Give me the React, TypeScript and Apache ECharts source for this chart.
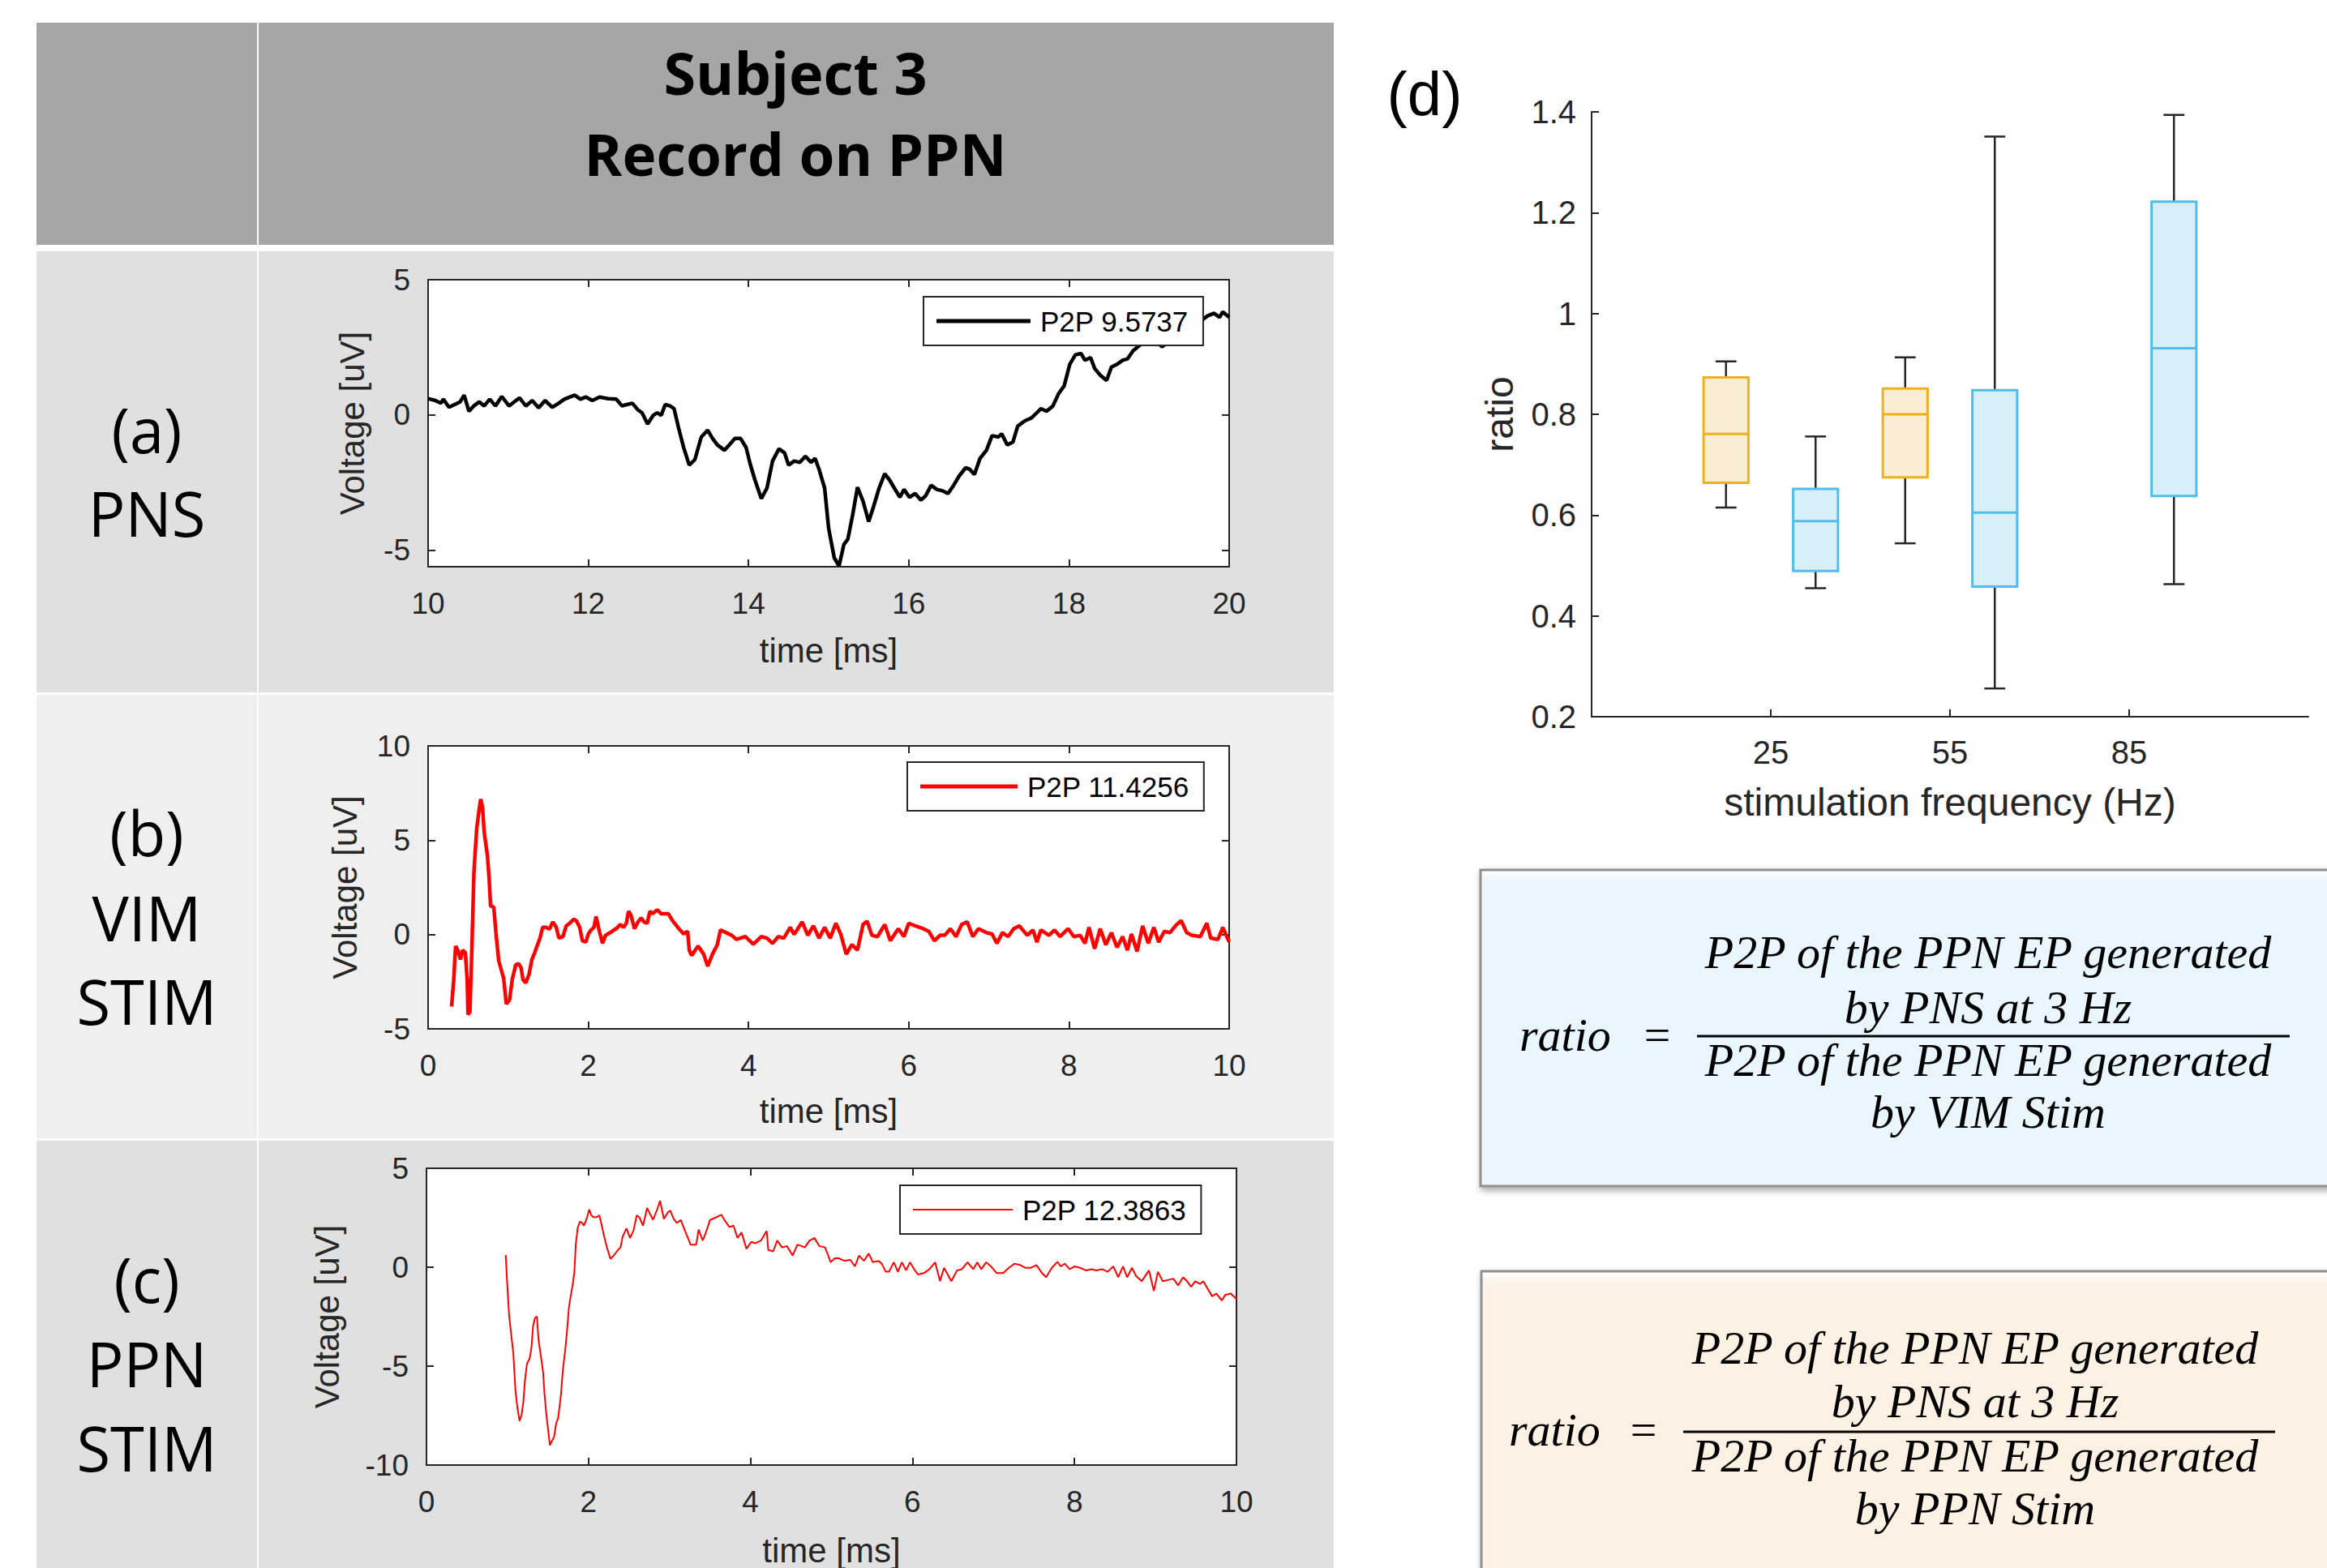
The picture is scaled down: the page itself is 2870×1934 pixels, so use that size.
import React, { useEffect, useRef } from "react";
import * as echarts from "echarts";

// ---------------- DATA ----------------
// (a) PNS evoked potential recorded on PPN
const pnsTime = [10.00, 10.09, 10.16, 10.19, 10.26, 10.33, 10.40, 10.45, 10.51, 10.57, 10.64, 10.70, 10.77, 10.84, 10.92, 11.01, 11.14, 11.22, 11.30, 11.38, 11.46, 11.55, 11.63, 11.70, 11.83, 11.90, 11.97, 12.05, 12.14, 12.25, 12.35, 12.42, 12.48, 12.55, 12.62, 12.67, 12.74, 12.81, 12.86, 12.91, 12.96, 13.02, 13.07, 13.13, 13.19, 13.26, 13.33, 13.41, 13.49, 13.55, 13.61, 13.70, 13.76, 13.83, 13.90, 13.97, 14.02, 14.08, 14.16, 14.23, 14.30, 14.38, 14.45, 14.50, 14.57, 14.64, 14.71, 14.78, 14.83, 14.88, 14.95, 15.00, 15.07, 15.13, 15.19, 15.24, 15.30, 15.36, 15.43, 15.50, 15.56, 15.63, 15.70, 15.76, 15.82, 15.89, 15.94, 16.01, 16.08, 16.15, 16.21, 16.28, 16.35, 16.42, 16.49, 16.56, 16.63, 16.71, 16.76, 16.82, 16.89, 16.97, 17.04, 17.12, 17.16, 17.23, 17.30, 17.36, 17.45, 17.53, 17.60, 17.65, 17.72, 17.80, 17.87, 17.94, 18.01, 18.08, 18.15, 18.20, 18.27, 18.32, 18.39, 18.47, 18.53, 18.60, 18.67, 18.73, 18.80, 18.88, 18.99, 19.09, 19.16, 19.29, 19.43, 19.57, 19.73, 19.81, 19.88, 19.92, 20.00];
const pnsVoltage = [0.60, 0.53, 0.43, 0.58, 0.28, 0.38, 0.48, 0.73, 0.13, 0.33, 0.48, 0.33, 0.58, 0.33, 0.68, 0.33, 0.63, 0.33, 0.53, 0.26, 0.53, 0.28, 0.43, 0.58, 0.73, 0.58, 0.66, 0.53, 0.66, 0.60, 0.58, 0.33, 0.38, 0.43, 0.18, 0.08, -0.34, -0.02, 0.08, -0.02, 0.38, 0.33, 0.23, -0.52, -1.21, -1.86, -1.66, -0.82, -0.57, -0.87, -1.11, -1.31, -1.11, -0.87, -0.87, -1.21, -1.81, -2.41, -3.10, -2.71, -1.71, -1.26, -1.41, -1.86, -1.71, -1.76, -1.53, -1.76, -1.61, -2.01, -2.71, -4.20, -5.29, -5.59, -4.80, -4.60, -3.70, -2.68, -3.20, -3.95, -3.40, -2.71, -2.18, -2.41, -2.71, -3.05, -2.76, -3.05, -2.91, -3.15, -3.00, -2.61, -2.76, -2.81, -2.91, -2.61, -2.26, -1.96, -2.01, -2.21, -1.61, -1.31, -0.77, -0.82, -0.70, -1.11, -1.01, -0.42, -0.22, -0.12, 0.08, 0.23, 0.13, 0.33, 0.78, 1.07, 1.87, 2.22, 2.27, 2.02, 2.12, 1.72, 1.47, 1.27, 1.77, 1.87, 2.02, 2.07, 2.37, 2.57, 2.77, 2.72, 2.52, 2.77, 3.01, 3.31, 3.66, 3.76, 3.61, 3.81, 3.61];

// (b) VIM stimulation
const vimTime = [0.293, 0.32, 0.343, 0.37, 0.404, 0.431, 0.465, 0.488, 0.498, 0.522, 0.545, 0.572, 0.606, 0.64, 0.657, 0.68, 0.70, 0.741, 0.761, 0.78, 0.82, 0.848, 0.882, 0.943, 0.976, 1.017, 1.05, 1.094, 1.128, 1.16, 1.185, 1.219, 1.26, 1.296, 1.33, 1.354, 1.397, 1.43, 1.475, 1.515, 1.556, 1.6, 1.633, 1.683, 1.724, 1.768, 1.818, 1.85, 1.892, 1.926, 1.97, 2.0, 2.034, 2.07, 2.097, 2.138, 2.178, 2.215, 2.256, 2.306, 2.357, 2.397, 2.44, 2.475, 2.502, 2.532, 2.576, 2.62, 2.66, 2.694, 2.735, 2.77, 2.80, 2.86, 2.91, 3.00, 3.05, 3.13, 3.19, 3.24, 3.26, 3.29, 3.37, 3.44, 3.49, 3.55, 3.61, 3.65, 3.72, 3.79, 3.85, 3.96, 4.06, 4.16, 4.23, 4.30, 4.37, 4.44, 4.52, 4.57, 4.67, 4.74, 4.81, 4.88, 4.95, 5.02, 5.09, 5.15, 5.22, 5.29, 5.36, 5.43, 5.48, 5.54, 5.61, 5.70, 5.77, 5.87, 5.94, 6.00, 6.08, 6.18, 6.25, 6.32, 6.39, 6.45, 6.52, 6.59, 6.66, 6.73, 6.80, 6.87, 6.97, 7.04, 7.10, 7.17, 7.24, 7.31, 7.38, 7.48, 7.55, 7.60, 7.65, 7.75, 7.82, 7.89, 7.99, 8.06, 8.14, 8.20, 8.25, 8.32, 8.39, 8.46, 8.53, 8.60, 8.67, 8.73, 8.78, 8.85, 8.92, 8.99, 9.06, 9.12, 9.19, 9.26, 9.33, 9.40, 9.47, 9.53, 9.64, 9.72, 9.77, 9.86, 9.92, 10.00];
const vimVoltage = [-3.82, -2.39, -0.61, -0.83, -1.32, -0.83, -0.97, -2.39, -4.24, -4.10, -0.97, 3.30, 5.58, 6.72, 7.18, 6.72, 5.44, 4.16, 3.02, 1.52, 1.45, 0.03, -1.40, -2.32, -3.68, -3.46, -2.39, -1.61, -1.54, -1.75, -2.39, -2.56, -2.11, -1.32, -0.97, -0.68, -0.19, 0.38, 0.38, 0.28, 0.67, 0.38, -0.19, -0.11, 0.46, 0.60, 0.81, 0.74, 0.38, -0.33, -0.40, 0.03, 0.24, 0.38, 0.95, 0.17, -0.47, -0.04, 0.06, 0.20, 0.34, 0.53, 0.38, 0.60, 1.24, 1.03, 0.31, 0.67, 0.88, 0.67, 0.60, 1.24, 1.10, 1.31, 1.10, 1.10, 0.74, 0.31, 0.03, 0.17, -0.83, -1.11, -0.61, -1.04, -1.68, -1.04, -0.54, 0.24, 0.10, -0.04, -0.26, -0.11, -0.51, -0.11, -0.19, -0.47, -0.11, -0.19, 0.38, 0.00, 0.67, -0.04, 0.46, -0.19, 0.38, -0.19, 0.60, 0.03, -1.04, -0.54, -0.83, 0.53, 0.71, -0.04, -0.11, 0.53, -0.33, 0.31, -0.11, 0.60, 0.46, 0.31, 0.17, -0.33, -0.04, -0.04, 0.31, -0.11, 0.53, 0.67, -0.11, 0.31, 0.10, 0.03, -0.47, 0.10, -0.11, 0.31, 0.46, -0.04, 0.24, -0.40, 0.24, -0.04, 0.24, -0.11, 0.31, -0.11, -0.04, -0.47, 0.38, -0.75, 0.31, -0.54, 0.10, -0.68, -0.11, -0.83, 0.03, -0.90, 0.46, -0.47, 0.38, -0.40, 0.17, 0.10, 0.46, 0.74, 0.10, -0.04, -0.11, 0.60, -0.19, -0.26, 0.38, -0.40];

// (c) PPN stimulation
const ppnTime = [0.978, 0.998, 1.02, 1.049, 1.072, 1.099, 1.122, 1.149, 1.173, 1.196, 1.216, 1.24, 1.273, 1.296, 1.316, 1.34, 1.363, 1.383, 1.407, 1.44, 1.457, 1.481, 1.508, 1.524, 1.548, 1.575, 1.601, 1.625, 1.658, 1.685, 1.709, 1.732, 1.759, 1.786, 1.809, 1.826, 1.843, 1.866, 1.893, 1.916, 1.943, 1.977, 2.01, 2.033, 2.06, 2.1, 2.134, 2.161, 2.194, 2.228, 2.271, 2.312, 2.362, 2.395, 2.422, 2.469, 2.513, 2.556, 2.596, 2.63, 2.673, 2.724, 2.757, 2.797, 2.848, 2.884, 2.931, 2.982, 3.01, 3.05, 3.09, 3.14, 3.20, 3.26, 3.33, 3.36, 3.41, 3.45, 3.50, 3.57, 3.64, 3.68, 3.74, 3.79, 3.84, 3.89, 3.95, 4.01, 4.06, 4.13, 4.20, 4.22, 4.28, 4.33, 4.39, 4.45, 4.52, 4.58, 4.63, 4.67, 4.73, 4.79, 4.85, 4.92, 4.96, 4.99, 5.04, 5.09, 5.16, 5.23, 5.29, 5.34, 5.40, 5.46, 5.51, 5.58, 5.62, 5.67, 5.71, 5.77, 5.82, 5.87, 5.92, 5.97, 6.03, 6.07, 6.14, 6.21, 6.28, 6.34, 6.39, 6.48, 6.55, 6.61, 6.68, 6.75, 6.80, 6.85, 6.91, 6.97, 7.04, 7.12, 7.19, 7.26, 7.33, 7.39, 7.46, 7.53, 7.60, 7.65, 7.72, 7.79, 7.83, 7.88, 7.94, 8.00, 8.07, 8.14, 8.21, 8.27, 8.34, 8.41, 8.48, 8.54, 8.60, 8.65, 8.71, 8.76, 8.83, 8.92, 8.98, 9.03, 9.09, 9.15, 9.22, 9.28, 9.34, 9.39, 9.44, 9.49, 9.55, 9.59, 9.64, 9.70, 9.75, 9.82, 9.86, 9.93, 10.00];
const ppnVoltage = [0.62, -0.92, -2.42, -3.52, -4.34, -6.26, -7.08, -7.77, -7.49, -6.81, -5.71, -4.89, -4.62, -4.07, -2.97, -2.56, -2.49, -3.66, -4.34, -5.30, -6.40, -7.49, -8.45, -9.00, -8.79, -8.59, -7.90, -7.63, -6.53, -5.16, -4.34, -3.38, -2.01, -1.33, -0.78, -0.23, 1.14, 1.96, 2.30, 2.26, 2.10, 2.44, 2.92, 2.64, 2.53, 2.53, 2.62, 2.16, 1.55, 1.00, 0.42, 0.59, 0.86, 1.00, 1.55, 1.96, 1.48, 1.85, 2.62, 2.51, 2.10, 2.99, 2.71, 2.40, 2.92, 3.36, 2.44, 2.78, 2.86, 2.45, 2.24, 2.38, 1.76, 1.14, 1.14, 1.90, 1.35, 1.76, 2.38, 2.51, 2.65, 2.38, 2.03, 2.10, 1.48, 1.76, 0.93, 1.28, 1.21, 1.35, 1.83, 0.87, 0.80, 1.35, 1.00, 1.07, 0.59, 1.14, 1.07, 1.00, 1.35, 1.48, 1.07, 1.00, 0.59, 0.25, 0.45, 0.45, 0.32, 0.38, 0.04, 0.59, 0.32, 0.69, 0.25, 0.32, 0.18, -0.23, -0.23, 0.25, -0.23, 0.25, -0.16, 0.25, -0.16, -0.37, -0.30, -0.10, 0.25, -0.71, -0.03, -0.71, -0.16, -0.10, 0.25, -0.10, 0.25, -0.10, 0.25, 0.04, -0.30, -0.30, -0.03, 0.18, 0.11, -0.03, -0.03, 0.11, -0.30, -0.51, -0.03, 0.27, 0.04, 0.18, -0.10, 0.04, -0.03, -0.16, -0.10, -0.16, -0.10, -0.23, 0.04, -0.51, 0.04, -0.51, -0.03, -0.44, -0.71, -0.16, -1.20, -0.23, -0.71, -0.65, -0.58, -0.92, -0.51, -0.71, -0.99, -0.71, -0.85, -0.71, -1.06, -1.47, -1.33, -1.68, -1.40, -1.33, -1.61];

const legendNames = ["P2P 9.5737", "P2P 11.4256", "P2P 12.3863"];
const pnsVoltageTicks = [-5, 0, 5];

// (d) ratio box plots: [min, q1, median, q3, max]
const stimFrequencies = [25, 55, 85];
const ppnRatioStats = [
  [0.615, 0.664, 0.761, 0.873, 0.905],
  [0.544, 0.675, 0.800, 0.851, 0.913],
];
const vimRatioStats = [
  [0.455, 0.489, 0.588, 0.652, 0.756],
  [0.256, 0.458, 0.605, 0.848, 1.351],
  [0.463, 0.638, 0.931, 1.222, 1.394],
];

// ---------------- STYLE ----------------
const SANS = '"Liberation Sans", Arial, Helvetica, sans-serif';
const OPEN = '"Open Sans", "Noto Sans", sans-serif';
const SERIF = '"Liberation Serif", "DejaVu Serif", serif';
const AX = "#262626";
const PPN_OFFSET = -7.5;
const VIM_OFFSET = 7.5;

const zip = (xs: number[], ys: number[]) => {
  const n = Math.min(xs.length, ys.length);
  const out: number[][] = [];
  for (let i = 0; i < n; i++) out.push([xs[i], ys[i]]);
  return out;
};

const axLine = { show: true, onZero: false, lineStyle: { color: AX, width: 2 } };
const tick = (customValues?: number[]) => {
  const t: any = { show: true, inside: true, length: 9, lineStyle: { color: AX, width: 2 } };
  if (customValues) t.customValues = customValues;
  return t;
};
const tickLabel = (size: number, margin: number, customValues?: number[]) => {
  const l: any = { show: true, fontFamily: SANS, fontSize: size, color: AX, margin };
  if (customValues) l.customValues = customValues;
  return l;
};

function traceX(gridIndex: number, min: number, max: number, interval: number, nameGap: number) {
  return [
    {
      type: "value", gridIndex, position: "bottom", min, max, interval,
      name: "time [ms]", nameLocation: "middle", nameGap,
      nameTextStyle: { fontFamily: SANS, fontSize: 42, color: AX },
      axisLine: axLine, axisTick: tick(), axisLabel: tickLabel(37, 27), splitLine: { show: false },
    },
    {
      type: "value", gridIndex, position: "top", min, max, interval,
      axisLine: axLine, axisTick: tick(), axisLabel: { show: false }, splitLine: { show: false },
    },
  ];
}

function traceY(gridIndex: number, min: number, max: number, interval: number, nameGap: number, custom?: number[]) {
  const base: any = { type: "value", gridIndex, min, max, splitLine: { show: false } };
  if (!custom) base.interval = interval;
  return [
    {
      ...base, position: "left",
      name: "Voltage [uV]", nameLocation: "middle", nameGap,
      nameTextStyle: { fontFamily: SANS, fontSize: 42, color: AX },
      axisLine: axLine, axisTick: tick(custom), axisLabel: tickLabel(37, 22, custom),
    },
    {
      ...base, position: "right",
      axisLine: axLine, axisTick: tick(custom), axisLabel: { show: false },
    },
  ];
}

function traceLegend(name: string, left: number, top: number, color: string, thickness: number, itemWidth: number) {
  return {
    data: [{ name, icon: "rect", itemStyle: { color } }],
    left, top, orient: "horizontal",
    backgroundColor: "#ffffff", borderColor: AX, borderWidth: 2, borderRadius: 0,
    padding: [11, 18, 11, 16], itemWidth, itemHeight: thickness, selectedMode: false,
    textStyle: { fontFamily: SANS, fontSize: 35, color: "#000", lineHeight: 38, padding: [0, 0, 0, 7] },
  };
}

const makeBoxRenderer = (stroke: string, fill: string) => (params: any, api: any) => {
  const x = api.value(0);
  const lo = api.value(1), q1 = api.value(2), med = api.value(3), q3 = api.value(4), hi = api.value(5);
  const halfW = 3.75, capW = 1.75;
  const c = (xv: number, yv: number) => api.coord([xv, yv]);
  const tl = c(x - halfW, q3), br = c(x + halfW, q1);
  const ml = c(x - halfW, med), mr = c(x + halfW, med);
  const top = c(x, hi), q3p = c(x, q3), q1p = c(x, q1), bot = c(x, lo);
  const cTL = c(x - capW, hi), cTR = c(x + capW, hi), cBL = c(x - capW, lo), cBR = c(x + capW, lo);
  const wStyle = { stroke: AX, lineWidth: 2.5 };
  return {
    type: "group",
    children: [
      { type: "line", shape: { x1: top[0], y1: top[1], x2: q3p[0], y2: q3p[1] }, style: wStyle },
      { type: "line", shape: { x1: q1p[0], y1: q1p[1], x2: bot[0], y2: bot[1] }, style: wStyle },
      { type: "line", shape: { x1: cTL[0], y1: cTL[1], x2: cTR[0], y2: cTR[1] }, style: wStyle },
      { type: "line", shape: { x1: cBL[0], y1: cBL[1], x2: cBR[0], y2: cBR[1] }, style: wStyle },
      { type: "rect", shape: { x: tl[0], y: tl[1], width: br[0] - tl[0], height: br[1] - tl[1] }, style: { fill, stroke, lineWidth: 3 } },
      { type: "line", shape: { x1: ml[0], y1: ml[1], x2: mr[0], y2: mr[1] }, style: { stroke, lineWidth: 3 } },
    ],
  };
};

const rect = (x: number, y: number, w: number, h: number, fill: any, extra: any = {}) => ({
  type: "rect", z: -5, shape: { x, y, width: w, height: h }, style: { fill, ...extra },
});

const txt = (text: string, x: number, y: number, size: number, family: string, opts: any = {}) => ({
  type: "text", x, y, z: 20,
  style: {
    text, fontSize: size, fontFamily: family,
    fontWeight: opts.weight || "normal", fontStyle: opts.style || "normal",
    fill: opts.color || "#000", align: opts.align || "center", verticalAlign: "middle",
  },
});

function equationBox(x: number, y: number, h: number, fill: string, denom: string, g: any) {
  const els: any[] = [];
  els.push({
    type: "rect", z: 5, shape: { x, y, width: 1100, height: h },
    style: {
      fill: { type: "linear", x: 0, y: 0, x2: 0, y2: 1, colorStops: [{ offset: 0, color: "#ffffff" }, { offset: 0.04, color: fill }, { offset: 1, color: fill }] },
      stroke: "#8f8f8f", lineWidth: 3, shadowBlur: 8, shadowColor: "rgba(0,0,0,0.35)", shadowOffsetX: 2, shadowOffsetY: 4,
    },
  });
  els.push(txt("ratio", g.ratioX, g.midY, 58, SERIF, { style: "italic", align: "left" }));
  els.push(txt("=", g.eqX, g.midY, 58, SERIF));
  els.push(txt("P2P of the PPN EP generated", g.cx, g.n1, 58, SERIF, { style: "italic" }));
  els.push(txt("by PNS at 3 Hz", g.cx, g.n2, 58, SERIF, { style: "italic" }));
  els.push({ type: "line", z: 20, shape: { x1: g.barL, y1: g.barY, x2: g.barR, y2: g.barY }, style: { stroke: "#000", lineWidth: 3 } });
  els.push(txt("P2P of the PPN EP generated", g.cx, g.d1, 58, SERIF, { style: "italic" }));
  els.push(txt(denom, g.cx, g.d2, 58, SERIF, { style: "italic" }));
  return els;
}

export default function App() {
  const ref = useRef<HTMLDivElement>(null);

  useEffect(() => {
    document.body.style.margin = "0";
    if (!ref.current) return;
    const chart = echarts.init(ref.current, null, { renderer: "svg" });

    const graphicEls: any[] = [
      // page / table backgrounds
      rect(0, 0, 2870, 1934, "#ffffff", {}),
      rect(45, 28, 272, 274, "#a6a6a6"),
      rect(319, 28, 1326, 274, "#a6a6a6"),
      rect(45, 310, 272, 544, "#e0e0e0"),
      rect(319, 310, 1326, 544, "#e0e0e0"),
      rect(45, 857, 272, 547, "#efefef"),
      rect(319, 857, 1326, 547, "#efefef"),
      rect(45, 1407, 272, 540, "#e0e0e0"),
      rect(319, 1407, 1326, 540, "#e0e0e0"),
      // header
      txt("Subject 3", 981, 89, 72, OPEN, { weight: "bold" }),
      txt("Record on PPN", 981, 189, 71, OPEN, { weight: "bold" }),
      // row labels
      txt("(a)", 181, 529, 76, OPEN),
      txt("PNS", 181, 632, 76, OPEN),
      txt("(b)", 181, 1026, 76, OPEN),
      txt("VIM", 181, 1131, 76, OPEN),
      txt("STIM", 181, 1234, 76, OPEN),
      txt("(c)", 181, 1577, 76, OPEN),
      txt("PPN", 181, 1681, 76, OPEN),
      txt("STIM", 181, 1785, 76, OPEN),
      // panel (d) label
      txt("(d)", 1757, 115, 76, SANS),
      ...equationBox(1826, 1073, 390, "#e9f6fd", "by VIM Stim", {
        ratioX: 1874, eqX: 2044, midY: 1276, cx: 2452, n1: 1174, n2: 1242, barL: 2093, barR: 2824, barY: 1278, d1: 1307, d2: 1371,
      }),
      ...equationBox(1827, 1568, 420, "#fdf1e3", "by PPN Stim", {
        ratioX: 1861, eqX: 2027, midY: 1763, cx: 2436, n1: 1662, n2: 1728, barL: 2076, barR: 2806, barY: 1766, d1: 1795, d2: 1860,
      }),
    ];
    graphicEls[0].z = -10;

    const ppnBoxData = ppnRatioStats.map((s, i) => [stimFrequencies[i] + PPN_OFFSET, ...s]);
    const vimBoxData = vimRatioStats.map((s, i) => [stimFrequencies[i] + VIM_OFFSET, ...s]);

    const option: any = {
      animation: false,
      backgroundColor: "#ffffff",
      textStyle: { fontFamily: SANS },
      graphic: { elements: graphicEls },
      grid: [
        { left: 528, top: 345, width: 988, height: 354, show: true, backgroundColor: "#ffffff", borderWidth: 0 },
        { left: 528, top: 920, width: 988, height: 349, show: true, backgroundColor: "#ffffff", borderWidth: 0 },
        { left: 526, top: 1441, width: 999, height: 366, show: true, backgroundColor: "#ffffff", borderWidth: 0 },
        { left: 1963, top: 138, width: 884, height: 746, show: false },
      ],
      xAxis: [
        ...traceX(0, 10, 20, 2, 82),
        ...traceX(1, 0, 10, 2, 80),
        ...traceX(2, 0, 10, 2, 84),
        {
          type: "value", gridIndex: 3, position: "bottom", min: -5, max: 115,
          name: "stimulation frequency (Hz)", nameLocation: "middle", nameGap: 81,
          nameTextStyle: { fontFamily: SANS, fontSize: 48, color: AX },
          axisLine: axLine, axisTick: tick(stimFrequencies), axisLabel: tickLabel(40, 24, stimFrequencies),
          splitLine: { show: false },
        },
      ],
      yAxis: [
        ...traceY(0, -5.62, 5, 5, 73, pnsVoltageTicks),
        ...traceY(1, -5, 10, 5, 82),
        ...traceY(2, -10, 5, 5, 102),
        {
          type: "value", gridIndex: 3, position: "left", min: 0.2, max: 1.4, interval: 0.2,
          name: "ratio", nameLocation: "middle", nameGap: 90,
          nameTextStyle: { fontFamily: SANS, fontSize: 48, color: AX },
          axisLine: axLine, axisTick: tick(), axisLabel: tickLabel(40, 19), splitLine: { show: false },
        },
      ],
      legend: [
        traceLegend(legendNames[0], 1139, 366, "#000000", 5, 116),
        traceLegend(legendNames[1], 1119, 940, "#ff0000", 5, 120),
        traceLegend(legendNames[2], 1110, 1462, "#ff0000", 2, 123),
      ],
      series: [
        {
          type: "line", name: legendNames[0], xAxisIndex: 0, yAxisIndex: 0,
          data: zip(pnsTime, pnsVoltage), symbol: "none", showSymbol: false,
          lineStyle: { color: "#000000", width: 4.5 }, itemStyle: { color: "#000000" },
        },
        {
          type: "line", name: legendNames[1], xAxisIndex: 2, yAxisIndex: 2,
          data: zip(vimTime, vimVoltage), symbol: "none", showSymbol: false,
          lineStyle: { color: "#ff0000", width: 4.5 }, itemStyle: { color: "#ff0000" },
        },
        {
          type: "line", name: legendNames[2], xAxisIndex: 4, yAxisIndex: 4,
          data: zip(ppnTime, ppnVoltage), symbol: "none", showSymbol: false,
          lineStyle: { color: "#ff0000", width: 2 }, itemStyle: { color: "#ff0000" },
        },
        {
          type: "custom", name: "PPN Stim", xAxisIndex: 6, yAxisIndex: 6,
          data: ppnBoxData, encode: { x: 0, y: [1, 2, 3, 4, 5] },
          renderItem: makeBoxRenderer("#EDB120", "#F9EED3"), z: 3,
        },
        {
          type: "custom", name: "VIM Stim", xAxisIndex: 6, yAxisIndex: 6,
          data: vimBoxData, encode: { x: 0, y: [1, 2, 3, 4, 5] },
          renderItem: makeBoxRenderer("#4DBEEE", "#D8EFF8"), z: 3,
        },
      ],
    };

    chart.setOption(option);
    return () => chart.dispose();
  }, []);

  return (
    <div
      ref={ref}
      style={{ position: "absolute", left: 0, top: 0, width: 2870, height: 1934 }}
    />
  );
}
